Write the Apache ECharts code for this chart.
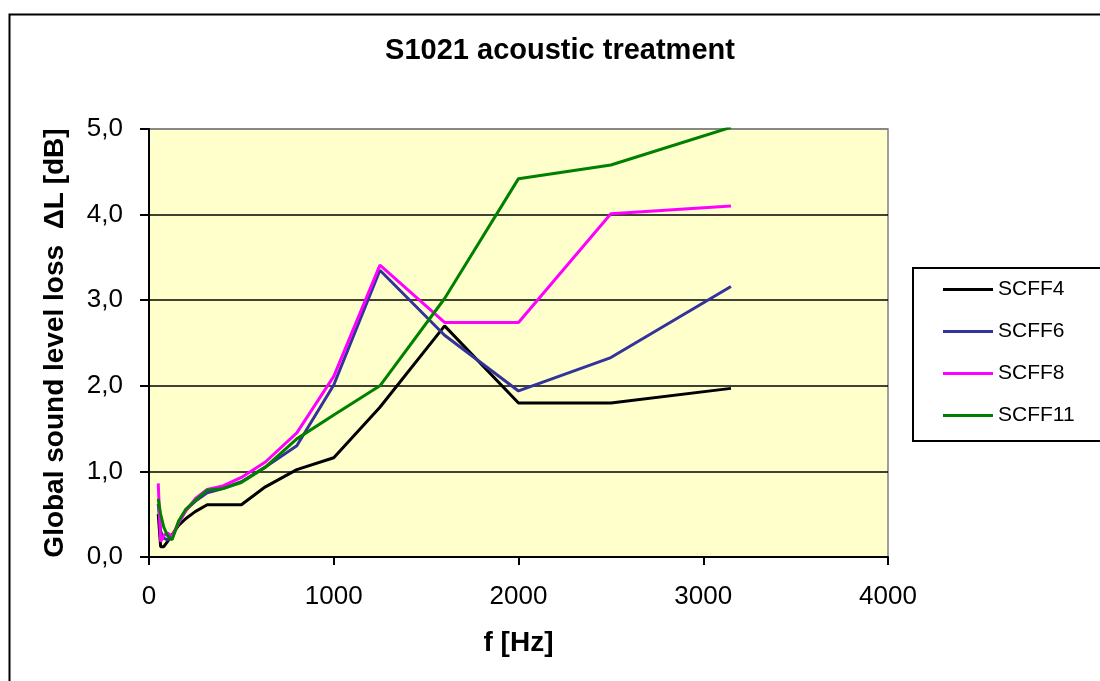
<!DOCTYPE html>
<html>
<head>
<meta charset="utf-8">
<script src="https://cdn.jsdelivr.net/npm/echarts@6/dist/echarts.min.js"></script>
<style>html,body{margin:0;padding:0;background:#fff}#c{width:1100px;height:681px}</style>
</head>
<body>
<div id="c"></div>
<script>
var freqs = [50, 63, 80, 100, 125, 160, 200, 250, 315, 400, 500, 630, 800, 1000, 1250, 1600, 2000, 2500, 3150];
var scff4 = [0.50, 0.12, 0.12, 0.18, 0.26, 0.37, 0.45, 0.53, 0.61, 0.61, 0.61, 0.82, 1.02, 1.16, 1.75, 2.70, 1.80, 1.80, 1.97];
var scff6 = [0.62, 0.30, 0.22, 0.20, 0.22, 0.40, 0.55, 0.65, 0.75, 0.80, 0.88, 1.05, 1.30, 2.01, 3.35, 2.59, 1.94, 2.33, 3.16];
var scff8 = [0.86, 0.18, 0.25, 0.28, 0.24, 0.40, 0.54, 0.68, 0.79, 0.83, 0.93, 1.11, 1.45, 2.11, 3.41, 2.74, 2.74, 4.01, 4.10];
var scff11 = [0.68, 0.50, 0.35, 0.25, 0.20, 0.42, 0.56, 0.66, 0.78, 0.80, 0.87, 1.05, 1.38, 1.66, 2.00, 3.02, 4.42, 4.58, 5.02];
var seriesNames = ['SCFF4', 'SCFF6', 'SCFF8', 'SCFF11'];
var seriesValues = [scff4, scff6, scff8, scff11];
var seriesColors = ['#000000', '#333399', '#FF00FF', '#008000'];
var yTickLabels = ['0,0', '1,0', '2,0', '3,0', '4,0', '5,0'];
var xTickLabels = ['0', '1000', '2000', '3000', '4000'];

var FONT = "'Liberation Sans', Arial, sans-serif";
function pairs(vals) { return freqs.map(function (f, i) { return [f, vals[i]]; }); }

var chart = echarts.init(document.getElementById('c'), null, { renderer: 'canvas' });
chart.setOption({
  backgroundColor: '#ffffff',
  animation: false,
  title: {
    text: 'S1021 acoustic treatment',
    left: 560, top: 36, padding: 0, textAlign: 'center',
    textStyle: { fontFamily: FONT, fontWeight: 'bold', fontSize: 29, color: '#000' }
  },
  graphic: [{
    type: 'rect', left: 7, top: 12, z: -10,
    shape: { width: 1200, height: 800 },
    style: { fill: 'none', stroke: '#000', lineWidth: 2 }
  }],
  legend: {
    orient: 'vertical', left: 913, top: 268,
    padding: [11, 60, 15, 30], itemGap: 21,
    itemWidth: 50, itemHeight: 3, icon: 'rect',
    borderColor: '#000', borderWidth: 2, backgroundColor: '#fff',
    textStyle: { fontFamily: FONT, fontSize: 21, color: '#000' },
    data: seriesNames
  },
  grid: {
    left: 149, top: 129, right: 212, bottom: 124,
    show: true, backgroundColor: '#FFFFCC', borderColor: '#808080', borderWidth: 1.5
  },
  xAxis: {
    type: 'value', min: 0, max: 4000, interval: 1000,
    name: 'f [Hz]', nameLocation: 'middle', nameGap: 72,
    nameTextStyle: { fontFamily: FONT, fontWeight: 'bold', fontSize: 28, color: '#000' },
    axisLine: { show: true, onZero: false, lineStyle: { color: '#000', width: 2 } },
    axisTick: { show: true, length: 8, lineStyle: { color: '#000', width: 2 } },
    axisLabel: {
      margin: 27, fontFamily: FONT, fontSize: 26, color: '#000',
      formatter: function (v) { return xTickLabels[Math.round(v / 1000)]; }
    },
    splitLine: { show: false }
  },
  yAxis: {
    type: 'value', min: 0, max: 5, interval: 1,
    name: 'Global sound level loss  \u0394L [dB]', nameLocation: 'middle', nameGap: 80, nameRotate: 90,
    nameTextStyle: { fontFamily: FONT, fontWeight: 'bold', fontSize: 28, color: '#000' },
    axisLine: { show: true, lineStyle: { color: '#000', width: 2 } },
    axisTick: { show: true, length: 9, lineStyle: { color: '#000', width: 2 } },
    axisLabel: {
      margin: 26, fontFamily: FONT, fontSize: 26, color: '#000',
      formatter: function (v) { return yTickLabels[Math.round(v)]; }
    },
    splitLine: { show: true, lineStyle: { color: ['#000', '#000', '#000', '#000', '#000', '#808080'], width: 1.5 } }
  },
  series: seriesNames.map(function (n, i) {
    return {
      name: n, type: 'line', data: pairs(seriesValues[i]),
      showSymbol: false, symbol: 'none', clip: true,
      lineStyle: { color: seriesColors[i], width: 3 },
      itemStyle: { color: seriesColors[i] }
    };
  })
});
</script>
</body>
</html>
